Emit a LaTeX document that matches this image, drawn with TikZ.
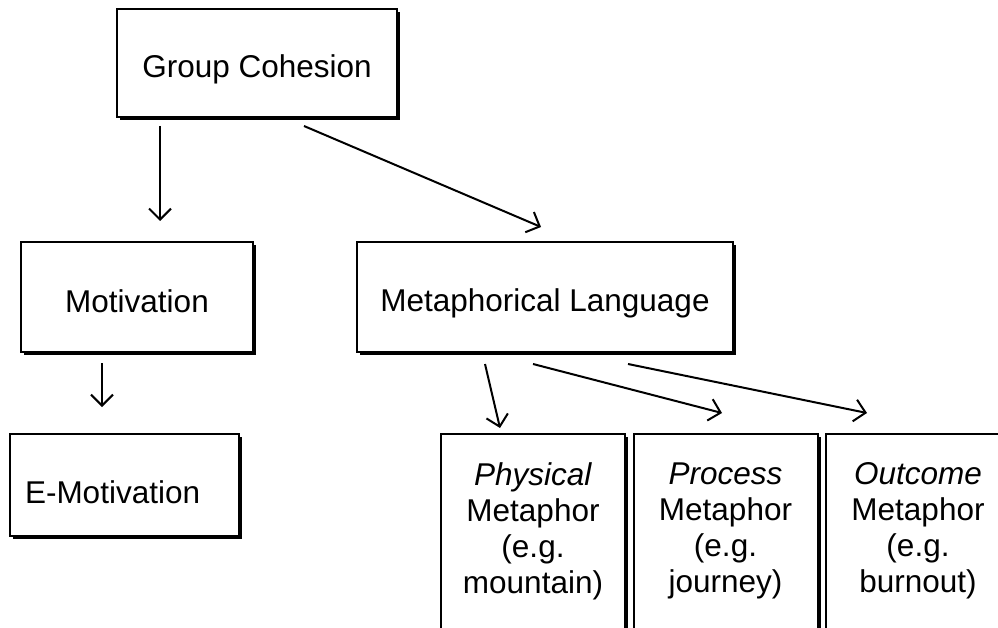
\documentclass[tikz,border=0pt]{standalone}
\usepackage{fontspec}
\setmainfont{Liberation Sans}
\usetikzlibrary{arrows.meta,shadows}

\tikzset{
  box/.style={draw, line width=2pt, fill=white, inner sep=0pt,
    general shadow={fill=black, shadow xshift=3pt, shadow yshift=-3pt},
    font=\fontsize{31.5}{36}\selectfont},
  metabox/.style={box, anchor=north, align=center, text width=170pt,
    inner xsep=7pt, inner ysep=29pt},
  arr/.style={-{Straight Barb[length=11pt,width=22pt]}, line width=2pt}
}

\begin{document}
\begin{tikzpicture}[x=1pt, y=-1pt]
\clip (0,0) rectangle (998,628);
\fill[white] (0,0) rectangle (998,628);

\node[box, minimum width=280pt, minimum height=108pt, text height=36pt, text depth=6pt] (gc) at (257,63) {Group Cohesion};
\node[box, minimum width=232pt, minimum height=110pt, text height=36pt, text depth=6pt] (mot) at (137,297) {Motivation};
\node[box, minimum width=376pt, minimum height=110pt, text height=34pt, text depth=6pt] (ml) at (545,297) {Metaphorical Language};
\node[box, minimum height=102pt, text width=199pt, inner xsep=15pt, align=left, text height=42pt, text depth=6pt] (emot) at (124.5,485) {E-Motivation};

\node[metabox] (phys) at (533,433) {\textit{Physical}\\Metaphor\\(e.g.\\mountain)\\[40pt]~};
\node[metabox] (proc) at (725.5,433) {\textit{Process}\\Metaphor\\(e.g.\\journey)\\[40pt]~};
\node[metabox] (outc) at (918,433) {\textit{Outcome}\\Metaphor\\(e.g.\\burnout)\\[40pt]~};

\draw[arr] ([xshift=-97pt,yshift=-8pt]gc.south) -- ([xshift=23pt,yshift=20pt]mot.north);
\draw[arr] ([xshift=47pt,yshift=-8pt]gc.south) -- ([xshift=-4pt,yshift=14pt]ml.north);
\draw[arr] ([xshift=-35pt,yshift=-10pt]mot.south) -- ([xshift=-22.5pt,yshift=26pt]emot.north);
\draw[arr] ([xshift=-60pt,yshift=-11pt]ml.south) -- ([xshift=-33pt,yshift=5pt]phys.north);
\draw[arr] ([xshift=-12pt,yshift=-11pt]ml.south) -- ([xshift=-3.5pt,yshift=20pt]proc.north);
\draw[arr] ([xshift=83pt,yshift=-11pt]ml.south) -- ([xshift=-51pt,yshift=20pt]outc.north);
\end{tikzpicture}
\end{document}
